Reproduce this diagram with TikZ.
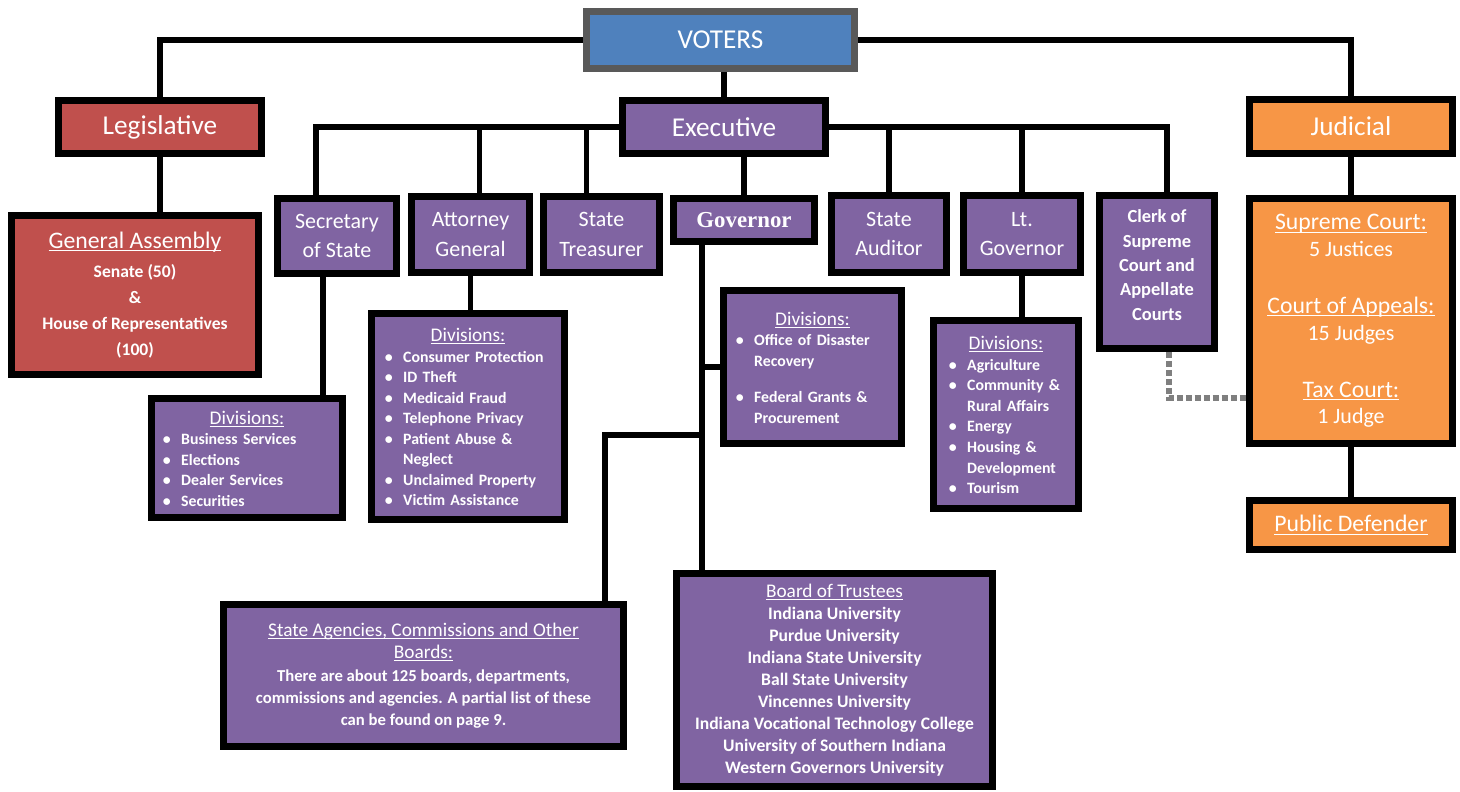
\documentclass[tikz,border=0pt]{standalone}
\usepackage{fontspec}
\setmainfont{Carlito}
\newfontfamily\govfont{Liberation Serif}

\definecolor{votblue}{HTML}{4F81BD}
\definecolor{votgray}{HTML}{595959}
\definecolor{legred}{HTML}{C0504D}
\definecolor{execpurple}{HTML}{8064A2}
\definecolor{judorange}{HTML}{F79646}
\definecolor{dotgray}{HTML}{7F7F7F}

\newsavebox{\ulbox}
\newcommand{\uln}[1]{\sbox{\ulbox}{#1}\rlap{\rule[-0.13em]{\wd\ulbox}{0.05em}}\usebox{\ulbox}}
\newcommand{\smallhead}[1]{{\mdseries\fontsize{11}{13}\selectfont\uln{#1}}}
\newcommand{\bighead}[1]{{\fontsize{13.5}{16}\selectfont\uln{#1}}}
\newcommand{\divhead}{\par\noindent\makebox[\hsize]{\smallhead{Divisions:}}\par}
\newenvironment{divlist}{\noindent\begin{tabular}[t]{@{\hspace{1pt}}l@{\hspace{6pt}}l@{}}}{\end{tabular}}

\begin{document}
\begin{tikzpicture}[x=0.02cm, y=-0.02cm,
  box/.style={draw=black, line width=4pt, text=white, inner sep=0pt, align=center},
  sz/.style 2 args={minimum width=#1*0.02cm, minimum height=#2*0.02cm},
  voterbox/.style={box, draw=votgray, fill=votblue},
  legbox/.style={box, fill=legred},
  execbox/.style={box, fill=execpurple},
  judbox/.style={box, fill=judorange},
  title/.style={font=\fontsize{15.5}{18}\selectfont},
  office/.style={font=\fontsize{12.5}{17}\selectfont},
  listtext/.style={align=left, font=\bfseries\fontsize{9}{11.7}\selectfont},
  link/.style={line width=3.4pt},
  dotlink/.style={line width=3pt, draw=dotgray, dash pattern=on 3.5pt off 1.6pt}]

  \useasboundingbox (0,0) rectangle (1460,791);

  % top level
  \node[voterbox, title, sz={268}{57}] (voters) at (720.5,40) {VOTERS};
  \node[legbox, title, sz={203}{53}] (legis) at (160,127) {Legislative};
  \node[execbox, title, sz={203}{53}] (exec) at (724,127) {Executive};
  \node[judbox, title, sz={203}{54}] (jud) at (1351,126.5) {Judicial};

  % legislative
  \node[legbox, sz={247}{159}, font=\bfseries\fontsize{10}{14.8}\selectfont] (assembly) at (135,295)
    {{\mdseries\bighead{General Assembly}}\\[2pt] Senate (50)\\ \&\\ House of Representatives\\ (100)};

  % judicial
  \node[judbox, sz={203}{245}, font=\fontsize{12.5}{15.3}\selectfont] (courts) at (1351,321)
    {\bighead{Supreme Court:}\\ 5 Justices\\[17pt] \bighead{Court of Appeals:}\\ 15 Judges\\[17pt]
     \bighead{Tax Court:}\\ 1 Judge};
  \node[judbox, sz={203}{49}, font=\fontsize{13.5}{16}\selectfont] (pubdef) at (1351,525) {\uln{Public Defender}};

  % executive offices
  \node[execbox, office, sz={119}{75}] (sec) at (337,236) {Secretary\\of State};
  \node[execbox, office, sz={118}{76}] (att) at (470.5,234.5) {Attorney\\General};
  \node[execbox, office, sz={116}{76}] (treas) at (601.5,234.5) {State\\Treasurer};
  \node[execbox, sz={141}{43}, font=\govfont\bfseries\fontsize{13}{15}\selectfont] (gov) at (744,220) {Governor};
  \node[execbox, office, sz={115}{77}] (aud) at (889,234) {State\\Auditor};
  \node[execbox, office, sz={117}{77}] (ltgov) at (1022,234) {Lt.\\Governor};
  \node[execbox, sz={115}{153}, font=\bfseries\fontsize{10.5}{13.9}\selectfont] (clerk) at (1157,272)
    {Clerk of\\Supreme\\Court and\\Appellate\\Courts\\[-6pt]};

  % divisions
  \node[execbox, listtext, sz={191}{119}, text width=3.44cm] (secdiv) at (247,458)
    {\divhead\begin{divlist}\textbullet & Business Services\\ \textbullet & Elections\\
     \textbullet & Dealer Services\\ \textbullet & Securities\end{divlist}};
  \node[execbox, listtext, sz={193}{206}, text width=3.40cm] (attdiv) at (468,416.5)
    {\divhead\begin{divlist}\textbullet & Consumer Protection\\ \textbullet & ID Theft\\
     \textbullet & Medicaid Fraud\\ \textbullet & Telephone Privacy\\ \textbullet & Patient Abuse \&\\
     & Neglect\\ \textbullet & Unclaimed Property\\ \textbullet & Victim Assistance\end{divlist}};
  \node[execbox, listtext, sz={178}{153}, text width=3.14cm] (govdiv) at (812.5,367)
    {\divhead\begin{divlist}\textbullet & Office of Disaster\\ & Recovery\\[9pt]
     \textbullet & Federal Grants \&\\ & Procurement\end{divlist}};
  \node[execbox, listtext, sz={145}{188}, text width=2.36cm] (ltdiv) at (1006,414.5)
    {\divhead\begin{divlist}\textbullet & Agriculture\\ \textbullet & Community \&\\ & Rural Affairs\\
     \textbullet & Energy\\ \textbullet & Housing \&\\ & Development\\ \textbullet & Tourism\end{divlist}};

  % under the governor
  \node[execbox, sz={400}{142}, font=\bfseries\fontsize{9.5}{12.4}\selectfont] (agency) at (423.5,675.5)
    {\smallhead{State Agencies, Commissions and Other}\\ \smallhead{Boards:}\\[1pt]
     There are about 125 boards, departments,\\ commissions and agencies. A partial list of these\\
     can be found on page 9.};
  \node[execbox, sz={316}{213}, font=\bfseries\fontsize{10}{12.5}\selectfont] (board) at (834.5,680)
    {\smallhead{Board of Trustees}\\ Indiana University\\ Purdue University\\ Indiana State University\\
     Ball State University\\ Vincennes University\\ Indiana Vocational Technology College\\
     University of Southern Indiana\\ Western Governors University};

  % voters to branches
  \draw[link] (voters.west) -| (legis.north);
  \draw[link] (voters.east) -| (jud.north);
  \draw[link] (exec.north) -- (exec.north |- voters.south);
  \draw[link] (legis.south) -- (legis.south |- assembly.north);
  \draw[link] (jud.south) -- (jud.south |- courts.north);
  \draw[link] (courts.south) -- (courts.south |- pubdef.north);

  % executive bar
  \draw[link] ([xshift=-21*0.02cm]sec.north) |- (exec.west);
  \draw[link] ([xshift=10*0.02cm]clerk.north) |- (exec.east);
  \foreach \o/\dx in {att/9, treas/-15, aud/0, ltgov/0}
    \draw[link] ([xshift=\dx*0.02cm]\o.north) -- ([xshift=\dx*0.02cm]\o.north |- exec.west);
  \draw[link] (gov.north) -- (gov.north |- exec.south);

  % divisions
  \draw[link] ([xshift=-14*0.02cm]sec.south) -- ([xshift=-14*0.02cm]sec.south |- secdiv.north);
  \draw[link] (att.south) -- (att.south |- attdiv.north);
  \draw[link] (ltgov.south) -- (ltgov.south |- ltdiv.north);

  % governor trunk
  \coordinate (govfoot) at ([xshift=-42*0.02cm]gov.south);
  \coordinate (govjoint) at (govfoot |- 0,435);
  \draw[link] (govfoot) -- (govfoot |- board.north);
  \draw[link] (govdiv.west) -- (govdiv.west -| govfoot);
  \draw[link] ([xshift=-22*0.02cm]agency.north east) |- (govjoint);

  % clerk to courts
  \draw[dotlink] ([xshift=12*0.02cm]clerk.south) |- ([yshift=-77*0.02cm]courts.west);

\end{tikzpicture}
\end{document}
